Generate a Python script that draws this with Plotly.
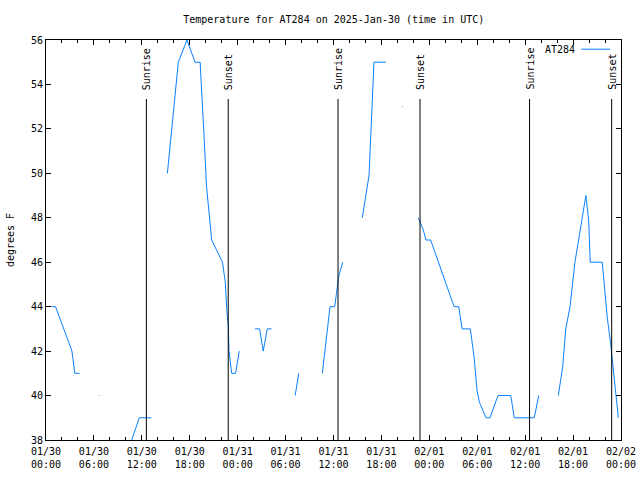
import plotly.graph_objects as go
from datetime import datetime, timedelta

# ---- data ----
times = [
    "2025-01-30 00:42", "2025-01-30 01:12", "2025-01-30 03:15", "2025-01-30 03:36", "2025-01-30 04:12", None,
    "2025-01-30 06:40", "2025-01-30 06:45", None,
    "2025-01-30 10:44", "2025-01-30 11:41", "2025-01-30 13:12", None,
    "2025-01-30 15:12", "2025-01-30 16:34", "2025-01-30 17:39", "2025-01-30 18:40", "2025-01-30 19:18",
    "2025-01-30 19:33", "2025-01-30 19:48", "2025-01-30 20:06", "2025-01-30 20:30", "2025-01-30 20:45",
    "2025-01-30 22:06", "2025-01-30 22:27", "2025-01-30 22:39", "2025-01-30 22:50", "2025-01-30 22:55",
    "2025-01-30 23:06", "2025-01-30 23:15", "2025-01-30 23:45", "2025-01-31 00:12", None,
    "2025-01-31 02:10", "2025-01-31 02:45", "2025-01-31 03:12", "2025-01-31 03:42", "2025-01-31 04:15", None,
    "2025-01-31 07:12", "2025-01-31 07:39", None,
    "2025-01-31 10:36", "2025-01-31 11:34", "2025-01-31 12:09", "2025-01-31 12:39", "2025-01-31 13:09", None,
    "2025-01-31 15:36", "2025-01-31 16:27", "2025-01-31 17:04", "2025-01-31 18:34", None,
    "2025-01-31 20:34", "2025-01-31 20:39", None,
    "2025-01-31 22:37", "2025-01-31 23:15", "2025-01-31 23:35", "2025-02-01 00:10", "2025-02-01 03:06",
    "2025-02-01 03:41", "2025-02-01 04:06", "2025-02-01 05:08", "2025-02-01 05:36", "2025-02-01 05:58",
    "2025-02-01 06:16", "2025-02-01 07:06", "2025-02-01 07:36", "2025-02-01 08:36", "2025-02-01 10:12",
    "2025-02-01 10:38", "2025-02-01 13:08", "2025-02-01 13:42", None,
    "2025-02-01 16:09", "2025-02-01 16:42", "2025-02-01 17:05", "2025-02-01 17:37", "2025-02-01 18:14",
    "2025-02-01 18:52", "2025-02-01 19:36", "2025-02-01 19:57", "2025-02-01 20:09", "2025-02-01 21:39",
    "2025-02-01 21:52", "2025-02-01 22:17", "2025-02-01 22:42", "2025-02-01 22:54", "2025-02-01 23:15",
    "2025-02-01 23:40",
]
temps_f = [
    44, 44, 42, 41, 41, None,
    40, 40, None,
    38, 39, 39, None,
    50, 55, 56, 55, 55,
    53.5, 51.6, 49.4, 47.7, 47,
    46, 45.1, 43.8, 43.1, 42,
    41.3, 41, 41, 42, None,
    43, 43, 42, 43, 43, None,
    40, 41, None,
    41, 44, 44, 45.35, 46, None,
    48, 49.9, 55, 55, None,
    53, 53, None,
    48, 47.45, 47, 47, 44,
    44, 43, 43, 41.75, 40.25,
    39.7, 39, 39, 40, 40,
    39, 39, 40, None,
    40, 41.3, 43, 44, 46,
    47.45, 49, 47.9, 46, 46,
    45.2, 43.5, 42.35, 41.7, 40.4,
    39,
]
sunrise_times = ["2025-01-30 12:34", "2025-01-31 12:34", "2025-02-01 12:33"]
sunset_times = ["2025-01-30 22:49", "2025-01-31 22:50", "2025-02-01 22:50"]
series_name = "AT284"
title_text = "Temperature for AT284 on 2025-Jan-30 (time in UTC)"
y_label = "degrees F"
x_start = datetime(2025, 1, 30, 0, 0)
x_end = datetime(2025, 2, 2, 0, 0)

FONT = "DejaVu Sans Mono"
LINE_COLOR = "#0a80ff"

tick_vals = []
t = x_start
while t <= x_end:
    tick_vals.append(t)
    t += timedelta(hours=6)
tick_text = [v.strftime("%m/%d") + "<br>" + v.strftime("%H:%M") for v in tick_vals]

fig = go.Figure()
fig.add_trace(go.Scatter(
    x=times, y=temps_f, mode="lines", name=series_name,
    line=dict(color=LINE_COLOR, width=1), connectgaps=False, showlegend=False,
))

shapes = []
annotations = []
for label, lst in (("Sunrise", sunrise_times), ("Sunset", sunset_times)):
    for tm in lst:
        shapes.append(dict(type="line", xref="x", yref="paper", x0=tm, x1=tm, y0=0, y1=0.8525,
                           line=dict(color="black", width=1)))
        annotations.append(dict(text=label, xref="x", yref="paper", x=tm, y=0.87,
                                xanchor="center", yanchor="bottom", textangle=-90, showarrow=False,
                                font=dict(family=FONT, size=10, color="black")))

# legend (gnuplot style: text then line sample)
annotations.append(dict(text=series_name, xref="paper", yref="paper", x=0.924, y=0.977,
                        xanchor="right", yanchor="middle", showarrow=False,
                        font=dict(family=FONT, size=10, color="black")))
shapes.append(dict(type="line", xref="paper", yref="paper", x0=0.931, x1=0.981, y0=0.977, y1=0.977,
                   line=dict(color=LINE_COLOR, width=1)))

fig.update_layout(
    width=640, height=480,
    margin=dict(l=46, r=19, t=40, b=40),
    paper_bgcolor="white", plot_bgcolor="white",
    font=dict(family=FONT, size=10, color="black"),
    title=dict(text=title_text, x=0.5215, xanchor="center", y=1 - 19 / 480, yanchor="middle",
               font=dict(family=FONT, size=10, color="black")),
    shapes=shapes, annotations=annotations,
)
fig.update_xaxes(
    type="date", range=[x_start, x_end], tickmode="array", tickvals=tick_vals, ticktext=tick_text,
    showgrid=False, zeroline=False, showline=True, linecolor="black", linewidth=1, mirror="ticks",
    ticks="inside", ticklen=5, tickcolor="black", tickwidth=1,
    minor=dict(ticks="inside", ticklen=3, tickcolor="black", dtick=2 * 3600 * 1000,
               tick0="2025-01-30", showgrid=False),
    tickfont=dict(family=FONT, size=10), automargin=False, ticklabelstandoff=2,
)
fig.update_yaxes(
    range=[38, 56], dtick=2, tick0=38,
    showgrid=False, zeroline=False, showline=True, linecolor="black", linewidth=1, mirror="ticks",
    ticks="inside", ticklen=5, tickcolor="black", tickwidth=1,
    tickfont=dict(family=FONT, size=10), automargin=False,
    title=dict(text=y_label, font=dict(family=FONT, size=10), standoff=14),
)

fig.write_html("out.html")
